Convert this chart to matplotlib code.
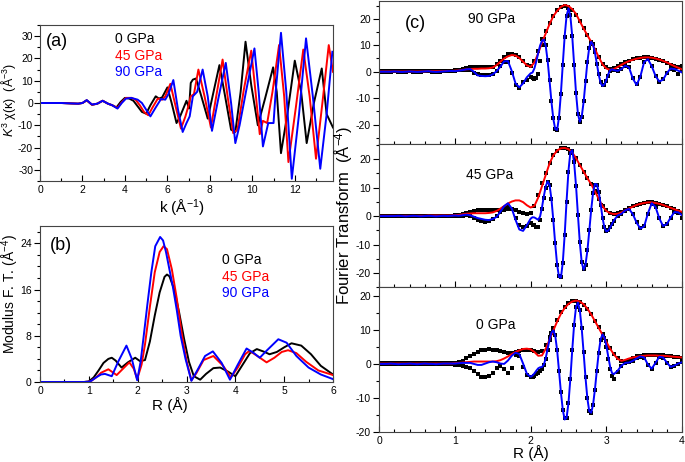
import numpy as np
import matplotlib.pyplot as plt
from matplotlib.ticker import MultipleLocator

plt.rcParams['font.family'] = ['Liberation Sans', 'DejaVu Sans']
plt.rcParams['mathtext.fontset'] = 'custom'
plt.rcParams['mathtext.rm'] = 'Liberation Sans'
plt.rcParams['mathtext.it'] = 'Liberation Sans:italic'
plt.rcParams['axes.unicode_minus'] = False

# ---------------- (a) k^3 chi(k) ----------------
k_0 = [0, 0.5, 1.0, 1.5, 1.8, 2.0, 2.2, 2.45, 2.7, 2.95, 3.2, 3.4, 3.6, 3.8, 4.0,
       4.2, 4.4, 4.6, 4.8, 5.0, 5.2, 5.45, 5.6, 5.75, 6.0, 6.2, 6.43, 6.6, 6.9, 7.02,
       7.1, 7.2, 7.35, 7.6, 7.9, 8.15, 8.45, 8.7, 9.0, 9.2, 9.45, 9.68, 9.95, 10.26, 10.6,
       10.98, 11.15, 11.35, 11.65, 12.0, 12.3, 12.56, 12.9, 13.27, 13.5, 13.8]
chi_0 = [0, 0, 0, -0.2, -0.3, 0, 1.2, -0.8, -0.3, 1.0, -0.3, -1.0, -2.0, 0.5, 2.3,
         2.0, 1.0, -1.5, -4.0, -4.8, -1.0, 3.0, 2.0, 2.5, 7.0, 0, -9.0, -6.0, 1.0, -2.5,
         9.0, 10.5, 11.0, 3.0, -7.0, 4.0, 17.0, 4.0, -12.0, -13.0, 5.0, 27.5, 8.0, -10.0, 2.0,
         16.0, 5.0, -22.5, -5.0, 19.0, 5.0, -18.0, 0.0, 15.5, -5.0, -11.0]

k_45 = [0, 0.5, 1.0, 1.5, 1.8, 2.0, 2.2, 2.45, 2.7, 2.95, 3.2, 3.4, 3.65, 3.85, 4.05,
        4.3, 4.5, 4.7, 4.9, 5.1, 5.3, 5.55, 5.75, 5.9, 6.14, 6.4, 6.64, 6.85, 7.0, 7.1,
        7.25, 7.46, 7.75, 8.05, 8.3, 8.6, 8.85, 9.1, 9.3, 9.6, 9.95, 10.15, 10.35, 10.5, 10.7,
        10.95, 11.26, 11.5, 11.7, 12.05, 12.4, 12.7, 13.0, 13.3, 13.6, 13.8]
chi_45 = [0, 0, 0, -0.2, -0.3, 0, 1.2, -0.8, -0.3, 1.0, -0.3, -1.0, -2.2, 0.3, 2.3,
          2.3, 1.5, -1.0, -4.0, -5.5, -2.0, 2.0, 1.5, 3.0, 8.6, -2.0, -11.5, -6.0, -1.0, 3.0,
          4.0, 15.0, 3.0, -11.0, 3.0, 19.5, 2.0, -13.5, -12.0, 6.0, 23.5, 5.0, -14.0, -8.0, -9.0,
          5.0, 26.0, 3.0, -26.5, -2.0, 24.0, 3.0, -25.0, 0.0, 26.0, 14.0]

k_90 = [0, 0.5, 1.0, 1.5, 1.8, 2.0, 2.2, 2.45, 2.7, 2.95, 3.2, 3.4, 3.65, 3.85, 4.05,
        4.3, 4.6, 4.8, 5.0, 5.2, 5.45, 5.7, 5.9, 6.05, 6.28, 6.5, 6.72, 6.9, 7.05, 7.2,
        7.4, 7.66, 7.9, 8.1, 8.4, 8.75, 9.0, 9.2, 9.4, 9.7, 10.1, 10.3, 10.5, 10.75, 11.0,
        11.1, 11.35, 11.6, 11.86, 12.2, 12.53, 12.85, 13.2, 13.5, 13.77]
chi_90 = [0, 0, 0, -0.2, -0.3, 0, 1.3, -0.7, -0.3, 1.0, -0.3, -1.0, -2.5, 0, 2.0,
          2.3, 1.5, 0, -3.0, -6.0, -2.0, 1.8, 1.5, 4.0, 10.3, -3.0, -13.0, -9.0, -6.0, 3.0,
          5.0, 15.0, 3.0, -12.5, 2.0, 18.0, 0, -18.0, -10.0, 5.0, 24.5, 5.0, -19.5, -9.0, -9.0,
          5.0, 31.5, 5.0, -34.0, -5.0, 29.0, 3.0, -29.5, -5.0, 23.0]

# ---------------- (b) modulus of FT ----------------
rb_0 = [0, 0.5, 0.9, 1.0, 1.1, 1.2, 1.3, 1.4, 1.47, 1.55, 1.67, 1.8, 1.95, 2.05, 2.15,
        2.25, 2.35, 2.45, 2.55, 2.6, 2.65, 2.75, 2.85, 2.95, 3.05, 3.15, 3.28, 3.4, 3.55, 3.69,
        3.85, 4.0, 4.15, 4.3, 4.44, 4.6, 4.7, 4.85, 5.0, 5.15, 5.35, 5.55, 5.75, 6.0]
mod_0 = [0, 0, 0, 0.1, 0.8, 2.0, 3.3, 4.0, 4.2, 3.7, 2.5, 3.4, 4.2, 3.6, 3.8,
         7.0, 11.5, 15.5, 18.2, 18.6, 18.3, 16.0, 12.0, 7.5, 3.5, 1.0, 0.4, 1.4, 2.4, 2.5,
         1.8, 1.0, 3.0, 5.0, 5.7, 5.2, 4.8, 5.2, 6.0, 6.7, 6.3, 4.8, 2.8, 1.3]

rb_45 = [0, 0.5, 0.9, 1.0, 1.05, 1.15, 1.25, 1.4, 1.57, 1.7, 1.83, 1.92, 1.99, 2.08, 2.15,
         2.25, 2.35, 2.45, 2.53, 2.6, 2.7, 2.8, 2.9, 3.0, 3.1, 3.2, 3.35, 3.55, 3.75, 3.91,
         4.05, 4.2, 4.29, 4.45, 4.64, 4.8, 4.95, 5.08, 5.25, 5.45, 5.7, 6.0]
mod_45 = [0, 0, 0, 0.05, 0.2, 0.8, 1.6, 2.2, 1.2, 2.3, 3.4, 2.3, 0.5, 3.0, 6.5,
          13.0, 19.0, 22.5, 23.5, 23.0, 19.5, 14.5, 8.5, 3.7, 0.3, 1.5, 3.8, 4.5, 2.8, 0.8,
          2.5, 4.8, 5.4, 4.5, 3.4, 4.2, 5.2, 5.5, 5.0, 3.5, 2.0, 1.2]

rb_90 = [0, 0.5, 0.9, 1.0, 1.05, 1.15, 1.25, 1.33, 1.47, 1.6, 1.77, 1.88, 1.99, 2.06, 2.12,
         2.2, 2.28, 2.36, 2.46, 2.52, 2.58, 2.65, 2.72, 2.8, 2.88, 2.98, 3.1, 3.22, 3.38, 3.54,
         3.72, 3.89, 4.05, 4.23, 4.38, 4.5, 4.65, 4.88, 5.05, 5.25, 5.5, 5.75, 6.0]
mod_90 = [0, 0, 0, 0.05, 0.2, 0.8, 1.3, 1.4, 1.0, 3.5, 6.3, 4.0, 0.3, 3.5, 7.7,
          13.5, 19.0, 23.5, 25.1, 24.5, 22.5, 19.5, 16.5, 12.5, 8.0, 4.0, 0.2, 2.0, 4.5, 5.3,
          3.3, 0.4, 3.0, 5.8, 5.0, 4.2, 5.5, 7.4, 6.8, 4.5, 2.5, 1.3, 0.5]

# ---------------- (c) FT data (squares) and fits ----------------
# magnitude on a 0.05 grid, real part on a finer grid between 2.0 and 3.1
r_mag = np.round(np.arange(0, 4.001, 0.05), 3)
r_re = np.round(np.concatenate([np.arange(0, 1.96, 0.05),
                                np.arange(2.0, 3.101, 0.025),
                                np.arange(3.15, 4.001, 0.05)]), 3)

mag_dat_90 = [0.2, 0.2, 0.2, 0.2, 0.2, 0.2, 0.2, 0.2, 0.2, 0.2, 0.2, 0.2, 0.2, 0.3, 0.3, 0.3, 0.3, 0.3, 0.4, 0.4,
              0.5, 0.7, 1.0, 1.4, 1.6, 1.7, 1.7, 1.8, 1.8, 1.7,
              1.9, 2.8, 4.2, 5.6, 6.5, 6.8, 6.4, 5.4, 4.0, 2.6,
              2.0, 4.2, 8.0, 12.5, 15.5, 18.5, 21.2, 23.2, 24.6, 25.0,
              24.6, 23.4, 21.6, 19.0, 16.5, 13.8, 11.2, 8.3, 5.5, 3.0,
              1.6, 1.2, 1.4, 2.0, 2.8, 3.6, 4.2, 4.7, 5.0, 5.3,
              5.4, 5.4, 5.2, 4.9, 4.5, 4.0, 3.4, 2.7, 2.0, 1.6,
              2.2]
re_dat_90 = [0, 0, 0, 0, 0.1, 0, -0.1, 0, 0.1, 0, -0.1, 0, 0.1, 0.2, 0, -0.1, 0, 0.1, 0.2, 0.3,
             0.3, 0.5, 0.7, 0.8, 0.5, -0.3, -1.0, -1.2, -1.3, -1.2,
             -0.8, 0.3, 2.0, 3.8, 3.6, -0.5, -5.0, -6.3, -4.0, -3.0,
             -2.0, -2.5, -2.8, -2.5, -1.0, 4.0, 10.0, 12.5, 10.0, 4.5,
             -3.0, -11.0, -17.5, -21.5, -22.0, -17.5, -8.5, 2.5, 13.0, 21.0,
             24.0, 21.5, 13.5, 2.5, -8.0, -16.0, -19.0, -17.0, -11.0, -3.5,
             3.5, 9.0, 11.0, 10.5, 7.5, 3.0, -1.0, -4.0, -5.2, -5.0,
             -3.5, -1.5, 0.2, 0.8, 0.8,
             0.2, 1.0, 2.0, 1.8, -2.5, -4.8, -2.0, 3.5, 4.8, 2.2,
             -1.8, -3.8, -2.8, -0.6, 1.0, 0.8, -0.8, 0.5]
mag_fit_90 = [0.1, 0.1, 0.1, 0.1, 0.1, 0.1, 0.1, 0.1, 0.1, 0.1, 0.1, 0.1, 0.1, 0.2, 0.2, 0.2, 0.2, 0.2, 0.3, 0.3,
              0.4, 0.5, 0.7, 0.9, 1.0, 1.1, 1.1, 1.2, 1.2, 1.3,
              1.6, 2.5, 3.8, 5.0, 5.8, 6.3, 6.1, 5.2, 3.8, 2.4,
              1.8, 3.5, 7.0, 11.0, 14.5, 18.0, 21.0, 23.0, 24.5, 25.2,
              24.8, 23.6, 21.8, 19.0, 16.3, 13.7, 11.3, 8.5, 5.5, 2.8,
              1.2, 0.7, 1.0, 1.8, 2.6, 3.4, 4.0, 4.5, 4.9, 5.2,
              5.4, 5.4, 5.3, 5.0, 4.6, 4.1, 3.5, 2.8, 2.1, 1.5,
              0.9]
re_fit_90 = [0, 0, 0, 0, 0.1, 0, -0.1, 0, 0.1, 0, -0.1, 0, 0.1, 0.2, 0, -0.1, 0, 0.1, 0.2, 0.3,
             0.2, 0.4, 0.6, 0.9, 1.0, 0.0, -1.4, -1.6, -1.7, -1.6,
             -1.0, 0.2, 1.9, 3.9, 4.0, 0.3, -4.4, -5.9, -4.4, -2.1,
             -0.6, -0.3, 1.3, 3.9, 7.1, 9.9, 11.7, 12.1, 9.6, 4.0,
             -3.5, -11.4, -17.9, -21.7, -22.0, -17.1, -8.1, 3.0, 13.6, 21.2,
             23.9, 21.0, 13.2, 2.5, -8.2, -16.0, -18.9, -16.9, -11.4, -3.8,
             3.8, 9.3, 11.3, 10.2, 7.1, 3.0, -1.2, -4.3, -5.4, -4.8,
             -3.1, -1.0, 0.5, 0.9, 0.6,
             0.3, 1.0, 2.3, 1.6, -2.6, -5.0, -1.8, 3.7, 4.7, 2.1,
             -1.6, -3.7, -3.0, -0.5, 1.2, 1.0, 0.4, -0.3]

mag_dat_45 = [0.2, 0.2, 0.2, 0.2, 0.2, 0.2, 0.2, 0.2, 0.2, 0.2, 0.2, 0.2, 0.2, 0.2, 0.2, 0.2, 0.2, 0.2, 0.2, 0.2,
              0.3, 0.5, 0.8, 1.2, 1.5, 1.8, 2.0, 2.2, 2.3, 2.3,
              2.2, 2.1, 2.0, 2.2, 2.5, 2.4, 2.0, 1.5, 1.0, 0.8,
              1.2, 3.5, 7.5, 11.5, 15.0, 18.5, 21.3, 23.0, 23.8, 23.9,
              23.5, 22.3, 20.3, 17.9, 15.6, 13.3, 11.2, 8.7, 6.0, 3.6,
              2.0, 1.1, 0.8, 1.0, 1.5, 2.2, 2.9, 3.5, 4.0, 4.4,
              4.7, 4.9, 4.9, 4.7, 4.4, 4.0, 3.5, 3.0, 2.4, 1.8,
              1.2]
re_dat_45 = [0, 0, 0, 0, 0, 0.1, 0, -0.1, 0, 0.1, 0, -0.1, 0, 0.1, 0, -0.1, 0, 0.1, 0, 0.1,
             0.2, 0.1, 0.2, 0.3, 0.0, -0.6, -1.3, -1.8, -2.1, -1.9,
             -1.2, 0.0, 1.5, 3.0, 3.5, 2.5, -0.8, -3.0, -4.0, -3.5,
             -2.5, -3.0, -3.3, -3.8, -4.0, -1.5, 2.5, 6.5, 10.0, 12.0,
             11.0, 6.0, -1.5, -9.5, -17.0, -21.0, -21.5, -16.5, -6.5, 5.0,
             15.5, 22.0, 23.0, 19.0, 10.5, 0.5, -9.0, -16.0, -18.5, -17.0,
             -12.0, -5.0, 2.0, 8.0, 11.0, 11.0, 8.5, 4.0, -0.5, -4.0,
             -5.2, -5.0, -4.0, -2.8, -1.6,
             0.0, 0.8, 1.8, 2.4, 0.8, -2.2, -4.3, -3.6, 0.8, 4.4,
             3.3, -0.6, -3.4, -2.9, -0.6, 1.3, 1.2, -0.8]
mag_fit_45 = [0.1, 0.1, 0.1, 0.1, 0.1, 0.1, 0.1, 0.1, 0.1, 0.1, 0.1, 0.1, 0.1, 0.2, 0.2, 0.2, 0.2, 0.2, 0.2, 0.2,
              0.3, 0.4, 0.6, 0.8, 0.9, 1.0, 1.0, 1.0, 1.0, 1.1,
              1.3, 1.8, 2.6, 3.5, 4.4, 5.1, 5.5, 5.5, 4.9, 3.8,
              3.0, 3.6, 6.5, 10.5, 14.5, 18.5, 21.3, 23.0, 23.8, 23.9,
              23.5, 22.3, 20.3, 17.9, 15.6, 13.3, 11.2, 8.7, 6.0, 3.5,
              1.8, 1.0, 0.7, 0.8, 1.3, 2.0, 2.7, 3.3, 3.9, 4.3,
              4.6, 4.8, 4.8, 4.6, 4.3, 3.9, 3.4, 2.9, 2.4, 1.9,
              1.5]
re_fit_45 = [0, 0, 0, 0, 0, 0.1, 0, -0.1, 0, 0.1, 0, -0.1, 0, 0.1, 0, -0.1, 0, 0.1, 0, 0.1,
             0.2, 0.1, 0.3, 0.5, 0.3, -0.2, -0.7, -1.0, -1.3, -1.4,
             -1.0, -0.3, 1.5, 3.5, 4.5, 2.7, -1.3, -4.7, -5.2, -3.2,
             -0.9, -0.4, -0.5, -0.9, -1.3, -0.1, 3.1, 7.1, 10.5, 12.2,
             10.9, 5.9, -1.6, -9.9, -17.1, -21.4, -21.6, -16.2, -6.4, 5.4,
             16.0, 22.4, 23.1, 18.7, 10.5, 0.3, -9.4, -16.3, -18.8, -17.0,
             -12.1, -5.1, 2.2, 8.2, 11.3, 11.1, 8.4, 4.1, -0.6, -4.1,
             -5.4, -5.1, -4.1, -2.8, -1.5,
             0.2, 0.8, 2.0, 2.5, 0.7, -2.3, -4.4, -3.6, 1.0, 4.5,
             3.2, -0.8, -3.5, -2.8, -0.5, 1.4, 1.3, 0.3]

mag_dat_0 = [0.2, 0.2, 0.2, 0.2, 0.2, 0.2, 0.2, 0.2, 0.2, 0.2, 0.2, 0.2, 0.2, 0.2, 0.2, 0.2, 0.2, 0.2, 0.2, 0.2,
             0.3, 0.6, 1.0, 1.6, 2.3, 3.0, 3.6, 4.0, 4.2, 4.3,
             4.2, 4.0, 3.7, 3.4, 3.2, 3.3, 3.6, 3.9, 4.1, 4.1,
             4.0, 3.9, 3.6, 3.8, 5.5, 8.0, 10.5, 13.0, 15.2, 16.8,
             17.9, 18.5, 18.6, 18.2, 17.4, 16.2, 14.6, 12.7, 10.8, 8.8,
             6.8, 4.8, 3.0, 1.6, 0.8, 0.6, 1.2, 1.8, 2.2, 2.4,
             2.5, 2.6, 2.6, 2.6, 2.6, 2.5, 2.4, 2.3, 2.1, 1.9,
             1.7]
re_dat_0 = [0, 0, 0, 0.1, 0, -0.1, 0, 0, 0.1, 0, -0.1, 0, 0.1, 0, 0, -0.1, 0, 0.1, 0.1, 0.0,
            -0.2, -0.4, -0.6, -0.8, -1.2, -2.0, -3.0, -3.8, -4.0, -3.6,
            -2.6, -1.2, -0.6, -1.5, -2.6, -1.2, 2.5, 2.2, -1.0, -3.4,
            -4.0, -3.8, -3.6, -3.0, -2.6, -2.0, -1.5, -0.3, 1.5, 4.0,
            7.0, 9.0, 9.8, 8.5, 4.0, -2.0, -8.4, -13.5, -16.0, -16.0,
            -11.5, -4.5, 4.0, 11.5, 16.8, 18.0, 15.8, 10.5, 3.5, -4.0,
            -10.0, -14.0, -14.5, -12.0, -7.6, -2.0, 3.2, 7.0, 8.5, 7.5,
            5.0, 1.5, -1.5, -3.5, -4.5,
            -2.5, -0.6, 0.3, 0.5, 1.0, 1.6, 2.0, 1.8, -0.4, -1.5,
            0.4, 2.0, 1.7, 0.3, -1.0, -0.7, 0.0, 0.7]
mag_fit_0 = [0.1, 0.1, 0.1, 0.1, 0.1, 0.1, 0.1, 0.1, 0.1, 0.1, 0.1, 0.1, 0.1, 0.1, 0.1, 0.1, 0.1, 0.1, 0.1, 0.1,
             0.2, 0.3, 0.4, 0.5, 0.6, 0.7, 0.7, 0.7, 0.7, 0.7,
             0.7, 0.8, 1.1, 1.6, 2.2, 2.9, 3.5, 4.0, 4.4, 4.5,
             4.3, 3.5, 2.4, 2.5, 4.5, 7.2, 9.9, 12.5, 14.8, 16.5,
             17.7, 18.4, 18.7, 18.4, 17.6, 16.3, 14.6, 12.6, 10.6, 8.6,
             6.5, 4.5, 2.8, 1.5, 0.9, 1.2, 1.6, 1.9, 2.1, 2.3,
             2.4, 2.5, 2.5, 2.5, 2.4, 2.4, 2.3, 2.2, 2.1, 2.0,
             1.9]
re_fit_0 = [0, 0, 0, 0.1, 0, -0.1, 0, 0, 0.1, 0, -0.1, 0, 0.1, 0, 0, -0.1, 0, 0.1, 0.1, 0.1,
            0.1, 0.2, 0.3, 0.3, 0.3, 0.0, -0.3, -0.3, 0.1, 0.5,
            0.7, 0.5, 0.1, 0.0, 1.0, 2.4, 3.3, 2.9, 0.1, -2.9,
            -3.8, -3.4, -2.8, -2.0, -1.3, -1.0, -0.9, -0.2, 1.8, 4.5,
            7.2, 9.2, 9.9, 8.3, 4.0, -2.1, -8.4, -13.6, -16.4, -15.9,
            -11.5, -4.3, 4.2, 11.8, 16.9, 18.1, 15.8, 10.4, 3.3, -4.1,
            -10.3, -14.0, -14.4, -12.0, -7.4, -1.8, 3.5, 7.3, 8.7, 7.8,
            5.4, 2.2, -0.8, -2.7, -3.0,
            -2.0, -0.5, 0.3, 0.4, 0.9, 1.6, 2.2, 1.9, -0.2, -1.4,
            0.3, 2.1, 1.9, 0.4, -0.9, -0.5, 0.1, 0.5]

labels = ['0 GPa', '45 GPa', '90 GPa']
colors = ['black', 'red', 'blue']

W, H = 685, 462
fig = plt.figure(figsize=(W / 100, H / 100), dpi=100)


def px_axes(l, t, r, b):
    return fig.add_axes([l / W, 1 - b / H, (r - l) / W, (b - t) / H])


def style(ax, fs=7.5, ypad=2):
    ax.tick_params(axis='x', which='both', direction='in', top=False, labelsize=fs, pad=3)
    ax.tick_params(axis='y', which='both', direction='out', right=False, labelsize=fs, pad=ypad)
    ax.tick_params(which='major', length=4, width=0.8)
    ax.tick_params(which='minor', length=2.5, width=0.8)
    for s in ax.spines.values():
        s.set_linewidth(0.8)
        s.set_color('#444444')


def ftext(x, y, s, **kw):
    fig.text(x / W, 1 - y / H, s, **kw)


# (a)
ax_a = px_axes(40, 25, 333, 181)
for kk, yy, c in zip([k_0, k_45, k_90], [chi_0, chi_45, chi_90], colors):
    ax_a.plot(kk, yy, color=c, lw=1.4)
ax_a.set_xlim(0, 13.8)
ax_a.set_ylim(-35, 35)
ax_a.xaxis.set_major_locator(MultipleLocator(2))
ax_a.xaxis.set_minor_locator(MultipleLocator(1))
ax_a.yaxis.set_major_locator(MultipleLocator(10))
ax_a.yaxis.set_minor_locator(MultipleLocator(5))
style(ax_a, ypad=1)
ftext(182, 208, 'k (Å$^{-1}$)', fontsize=11, ha='center', va='center')
ftext(9, 100, '$K^3$ χ(κ)  (Å$^{-3}$)', fontsize=9, rotation=90, ha='center', va='center')
ftext(57, 42, '(a)', fontsize=13, ha='center', va='center')
for lab, c, yy in zip(labels, colors, [39, 56, 72]):
    ftext(115, yy, lab, fontsize=10, color=c, va='center')

# (b)
ax_b = px_axes(40, 226, 333, 382)
for rr, yy, c in zip([rb_0, rb_45, rb_90], [mod_0, mod_45, mod_90], colors):
    ax_b.plot(rr, yy, color=c, lw=1.4)
ax_b.set_xlim(0, 6)
ax_b.set_ylim(0, 27)
ax_b.xaxis.set_major_locator(MultipleLocator(1))
ax_b.xaxis.set_minor_locator(MultipleLocator(0.5))
ax_b.yaxis.set_major_locator(MultipleLocator(8))
ax_b.yaxis.set_minor_locator(MultipleLocator(2))
style(ax_b)
ftext(170, 405, 'R (Å)', fontsize=11, ha='center', va='center')
ftext(10, 294, 'Modulus F. T. (Å$^{-4}$)', fontsize=10, rotation=90, ha='center', va='center')
ftext(61, 246, '(b)', fontsize=13, ha='center', va='center')
for lab, c, yy in zip(labels, colors, [260, 277, 293]):
    ftext(222, yy, lab, fontsize=10, color=c, va='center')

# (c)
panels = [
    (1, 144, (-27.3, 26.7), mag_dat_90, re_dat_90, mag_fit_90, re_fit_90, '90 GPa', (468, 19)),
    (144, 287.3, (-25.0, 25.3), mag_dat_45, re_dat_45, mag_fit_45, re_fit_45, '45 GPa', (466, 175)),
    (287.3, 431.7, (-20, 22.6), mag_dat_0, re_dat_0, mag_fit_0, re_fit_0, '0 GPa', (476, 325)),
]
for i, (t, b, yl, md, rd, mf, rf, name, pos) in enumerate(panels):
    ax = px_axes(379.3, t, 682, b)
    ax.plot(r_mag, md, 's', color='black', ms=2.6, mew=0)
    ax.plot(r_re, rd, 's', color='black', ms=2.6, mew=0)
    ax.plot(r_mag, mf, color='red', lw=1.4)
    ax.plot(r_re, rf, color='blue', lw=1.4)
    ax.set_xlim(0, 4)
    ax.set_ylim(*yl)
    ax.xaxis.set_major_locator(MultipleLocator(1))
    ax.xaxis.set_minor_locator(MultipleLocator(0.2))
    ax.yaxis.set_major_locator(MultipleLocator(10))
    ax.yaxis.set_minor_locator(MultipleLocator(5))
    style(ax)
    if i < 2:
        ax.tick_params(axis='x', labelbottom=False)
    ftext(pos[0], pos[1], name, fontsize=10, va='center')

ftext(531, 453, 'R (Å)', fontsize=11, ha='center', va='center')
ftext(415, 24, '(c)', fontsize=13, ha='center', va='center')
ftext(344, 215, 'Fourier Transform  (Å$^{-4}$)', fontsize=12, rotation=90,
      ha='center', va='center')

fig.savefig('out.png', dpi=100)
